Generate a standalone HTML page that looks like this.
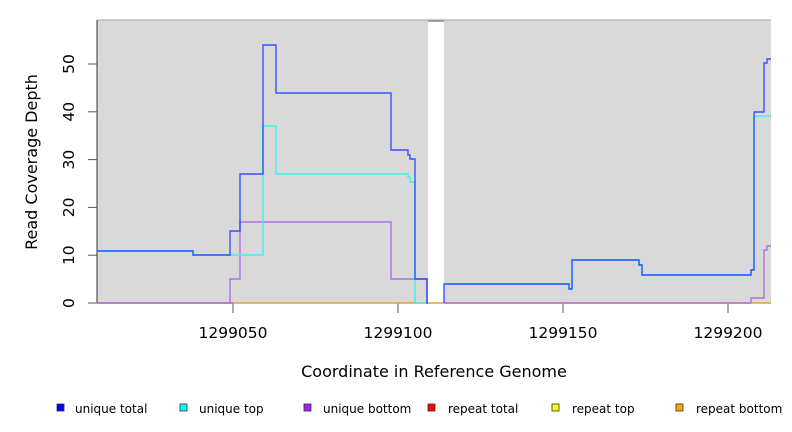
<!DOCTYPE html>
<html><head><meta charset="utf-8"><style>body{margin:0;background:#fff}svg{display:block}text{font-family:"DejaVu Sans","Liberation Sans",sans-serif;fill:#000}</style></head><body>
<svg width="792" height="432" xmlns="http://www.w3.org/2000/svg">
<rect x="97" y="20" width="674" height="283" fill="#d9d9d9"/>
<rect x="428" y="20" width="16" height="283" fill="#fff"/>
<line x1="97" y1="20" x2="771" y2="20" stroke="#bbb" stroke-width="1.5"/>
<line x1="428" y1="21" x2="444" y2="21" stroke="#888" stroke-width="1.5"/>
<line x1="97" y1="20" x2="97" y2="303" stroke="#333" stroke-width="1"/>
<g stroke="#555" stroke-width="1">
<line x1="88" y1="303" x2="97" y2="303"/><line x1="88" y1="255.2" x2="97" y2="255.2"/><line x1="88" y1="207.4" x2="97" y2="207.4"/><line x1="88" y1="159.6" x2="97" y2="159.6"/><line x1="88" y1="111.8" x2="97" y2="111.8"/><line x1="88" y1="64" x2="97" y2="64"/>
<line x1="233" y1="303" x2="233" y2="313"/><line x1="398" y1="303" x2="398" y2="313"/><line x1="563" y1="303" x2="563" y2="313"/><line x1="728" y1="303" x2="728" y2="313"/>
</g>
<g font-size="15.5" text-anchor="middle">
<text transform="translate(74,303) rotate(-90)">0</text>
<text transform="translate(74,255.2) rotate(-90)">10</text>
<text transform="translate(74,207.4) rotate(-90)">20</text>
<text transform="translate(74,159.6) rotate(-90)">30</text>
<text transform="translate(74,111.8) rotate(-90)">40</text>
<text transform="translate(74,64) rotate(-90)">50</text>
<text x="233" y="338">1299050</text><text x="398" y="338">1299100</text><text x="563" y="338">1299150</text><text x="728" y="338">1299200</text>
</g>
<g font-size="16" text-anchor="middle">
<text x="434" y="377">Coordinate in Reference Genome</text>
<text transform="translate(37,162) rotate(-90)">Read Coverage Depth</text>
</g>
<line x1="97" y1="303" x2="233" y2="303" stroke="#d06080" stroke-width="1.5"/>
<line x1="233" y1="303" x2="771" y2="303" stroke="#e8a030" stroke-width="1.5"/>
<g fill="none" stroke-width="1.4">
<path d="M97,303H230V279H240V222H391V279H427V303 M444,303H751V298H764V250H767V246H771" stroke="#b070e0"/>
<path d="M97,251H193V255H263V126H276V174H408V177H410V182H415V303H427 M444,284H569V289H572V260H639V265H642V275H751V270H754V116H771" stroke="#40f0f0"/>
<path d="M97,251H193V255H230V231H240V174H263V45H276V93H391V150H408V155H410V159H415V279H427V303H428 M444,303V284H569V289H572V260H639V265H642V275H751V270H754V112H764V63H767V59H771" stroke="#1a3cff" stroke-opacity="0.85"/>
</g>
<g stroke="#333" stroke-width="0.8">
<rect x="57" y="404" width="7" height="7" fill="#0000ff"/>
<rect x="180" y="404" width="7" height="7" fill="#00ffff"/>
<rect x="304" y="404" width="7" height="7" fill="#a020f0"/>
<rect x="428" y="404" width="7" height="7" fill="#ff0000"/>
<rect x="552" y="404" width="7" height="7" fill="#ffff00"/>
<rect x="676" y="404" width="7" height="7" fill="#ffa500"/>
</g>
<g font-size="12">
<text x="75" y="413">unique total</text><text x="199" y="413">unique top</text><text x="323" y="413">unique bottom</text><text x="448" y="413">repeat total</text><text x="572" y="413">repeat top</text><text x="696" y="413">repeat bottom</text>
</g>
</svg>
</body></html>
